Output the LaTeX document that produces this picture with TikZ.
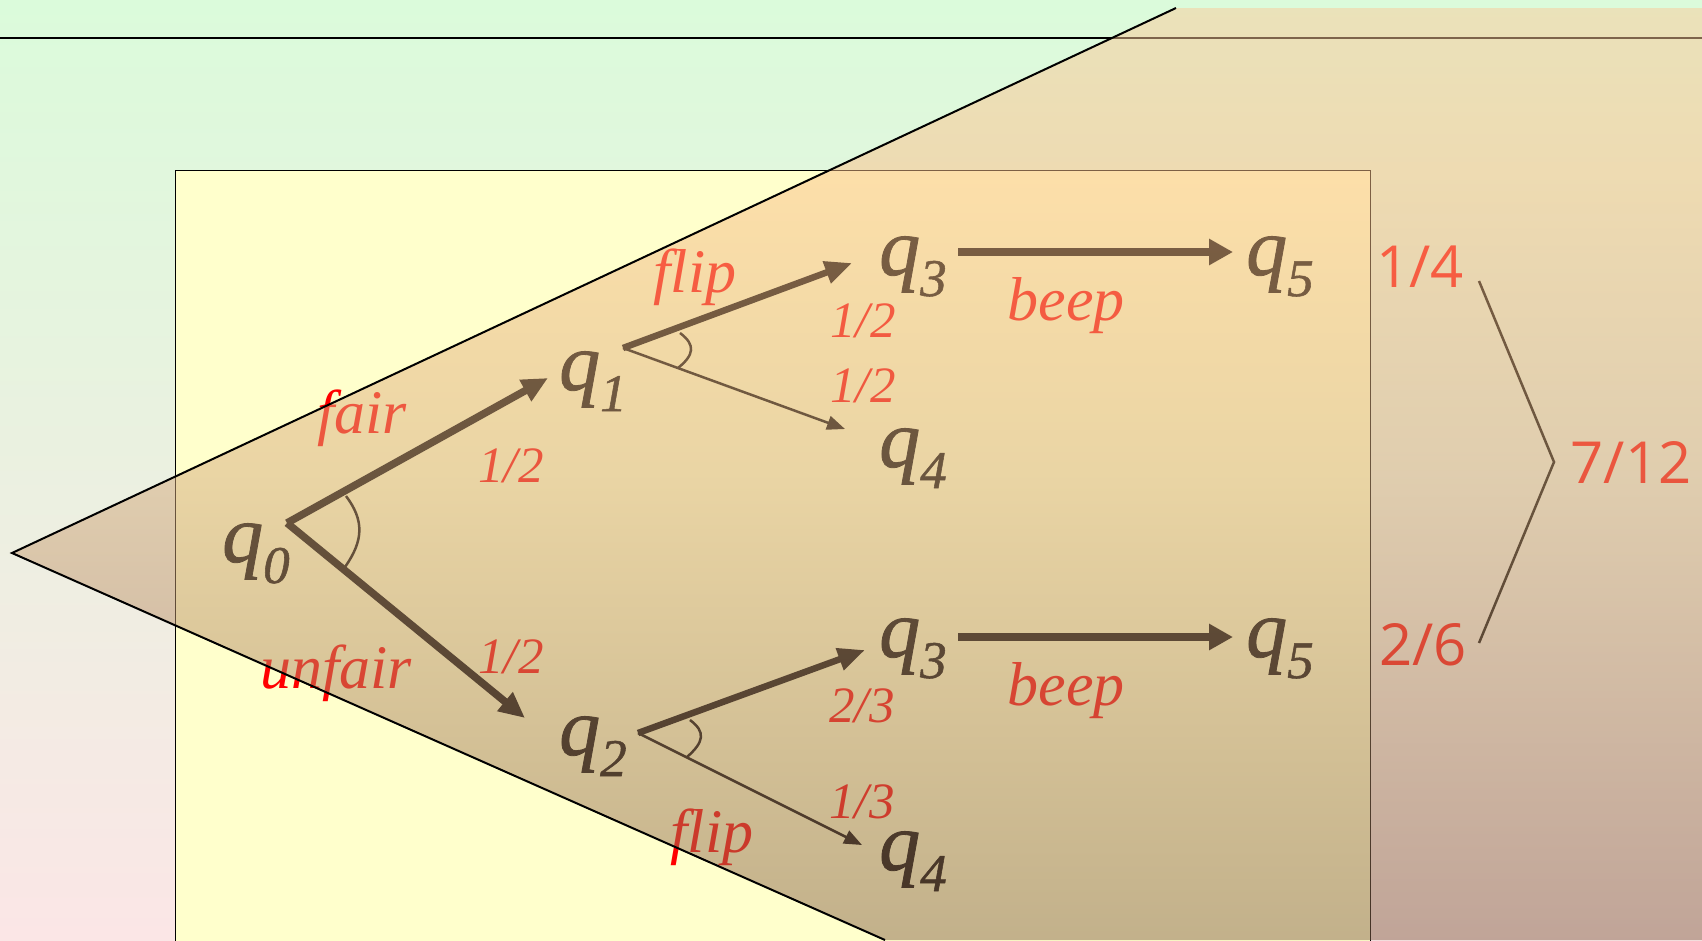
\documentclass[tikz,border=0pt]{standalone}
\usepackage{fontspec}
\setmainfont{Liberation Serif}
\newfontfamily\qfont{Liberation Serif}[ItalicFeatures={FakeBold=1}]
\newfontfamily\comicfont{Open Sans}
\usetikzlibrary{arrows.meta}
\definecolor{bgtop}{RGB}{219,251,219}
\definecolor{bgbot}{RGB}{251,230,230}
\definecolor{yellowbox}{RGB}{255,255,204}
\definecolor{ptop}{RGB}{250,202,154}
\definecolor{pup}{RGB}{251,192,136}
\definecolor{pmid}{RGB}{214,172,126}
\definecolor{pbot}{RGB}{135,100,75}
\pgfdeclareverticalshading{polyshade}{100bp}{color(0bp)=(pbot); color(25bp)=(pbot); color(50bp)=(pmid); color(66bp)=(pup); color(75bp)=(ptop); color(100bp)=(ptop)}
\newcommand\stq[1]{\qfont\fontsize{82}{82}\selectfont\itshape q\raisebox{-21pt}{\fontsize{53}{53}\selectfont #1}}
\tikzset{
  st/.style={inner sep=0pt, anchor=base west},
  lab/.style={inner sep=0pt, anchor=base, text=red, font=\fontsize{62}{62}\selectfont\itshape},
  frac/.style={inner sep=0pt, anchor=base, text=red, font=\fontsize{51}{51}\selectfont\itshape},
  sumlab/.style={inner sep=0pt, anchor=base, text=red, font=\fontsize{58}{58}\selectfont\comicfont},
  thickarr/.style={line width=7.5pt, -{Triangle[length=26pt,width=23pt]}},
  midarr/.style={line width=6.5pt, -{Triangle[length=27pt,width=22pt]}},
  thinarr/.style={line width=2.5pt, -{Triangle[length=18pt,width=14pt]}},
  beeparr/.style={line width=8pt, -{Triangle[length=24pt,width=25pt]}},
  anglemark/.style={line width=2.5pt},
}
\begin{document}
\begin{tikzpicture}[x=1pt,y=-1pt]
\useasboundingbox (0,0) rectangle (1702,940);
% background
\shade[top color=bgtop, bottom color=bgbot] (0,0) rectangle (1702,940);
\draw[line width=2pt] (0,38) -- (1702,38);
\draw[line width=1pt, fill=yellowbox] (175,170) rectangle (1370,950);

% states
\node[st] (q0) at (222,562) {\stq{0}};
\node[st] (q1) at (559,390) {\stq{1}};
\node[st] (q2) at (559,755) {\stq{2}};
\node[st] (q3a) at (879,275) {\stq{3}};
\node[st] (q4a) at (879,467) {\stq{4}};
\node[st] (q5a) at (1246,275) {\stq{5}};
\node[st] (q3b) at (879,657) {\stq{3}};
\node[st] (q4b) at (879,870) {\stq{4}};
\node[st] (q5b) at (1246,657) {\stq{5}};

% connector end points
\coordinate (q0out) at (287,523);
\coordinate (q1in) at (548,378);
\coordinate (q2in) at (525,718);
\coordinate (q1out) at (623,348);
\coordinate (q3ain) at (852,263);
\coordinate (q4ain) at (845,429);
\coordinate (q2out) at (638,733);
\coordinate (q3bin) at (865,650);
\coordinate (q4bin) at (862,845);
\coordinate (q3aout) at (958,252);
\coordinate (q5ain) at (1233,252);
\coordinate (q3bout) at (958,637);
\coordinate (q5bin) at (1233,637);

\draw[thickarr] (q0out) -- (q1in);
\draw[thickarr] (q0out) -- (q2in);
\draw[midarr] (q1out) -- (q3ain);
\draw[thinarr] (q1out) -- (q4ain);
\draw[midarr] (q2out) -- (q3bin);
\draw[thinarr] (q2out) -- (q4bin);
\draw[beeparr] (q3aout) -- (q5ain);
\draw[beeparr] (q3bout) -- (q5bin);

% angle marks
\draw[anglemark] (346,496) .. controls (364,520) and (364,540) .. (345,567);
\draw[anglemark] (680,333) .. controls (696,345) and (694,355) .. (678,368);
\draw[anglemark] (690,720) .. controls (706,732) and (704,742) .. (687,757);

% labels
\node[lab] (fair) at (362,433) {fair};
\node[lab] (unfair) at (336,688) {unfair};
\node[lab] (flipa) at (695,292) {flip};
\node[lab] (flipb) at (712,852) {flip};
\node[lab] (beepa) at (1066,320) {beep};
\node[lab] (beepb) at (1066,705) {beep};
\node[frac] (pa) at (511,482) {1/2};
\node[frac] (pb) at (511,673) {1/2};
\node[frac] (pc) at (863,337) {1/2};
\node[frac] (pd) at (863,402) {1/2};
\node[frac] (pe) at (862,722) {2/3};
\node[frac] (pf) at (862,818) {1/3};

% sums
\node[sumlab] (sa) at (1420,287) {1/4};
\node[sumlab] (sb) at (1423,665) {2/6};
\node[sumlab] (sc) at (1631,483) {7/12};
\coordinate (bra) at (1479,281);
\coordinate (brm) at (1554,462);
\coordinate (brb) at (1479,643);
\draw[line width=2.5pt] (bra) -- (brm) -- (brb);

% translucent overlay
\shade[shading=polyshade, fill opacity=0.5] (12,553) -- (1176,8) -- (1702,8) -- (1702,940) -- (885,940) -- cycle;
\draw[line width=2pt, line join=miter] (885,940) -- (12,553) -- (1176,8);
\end{tikzpicture}
\end{document}
